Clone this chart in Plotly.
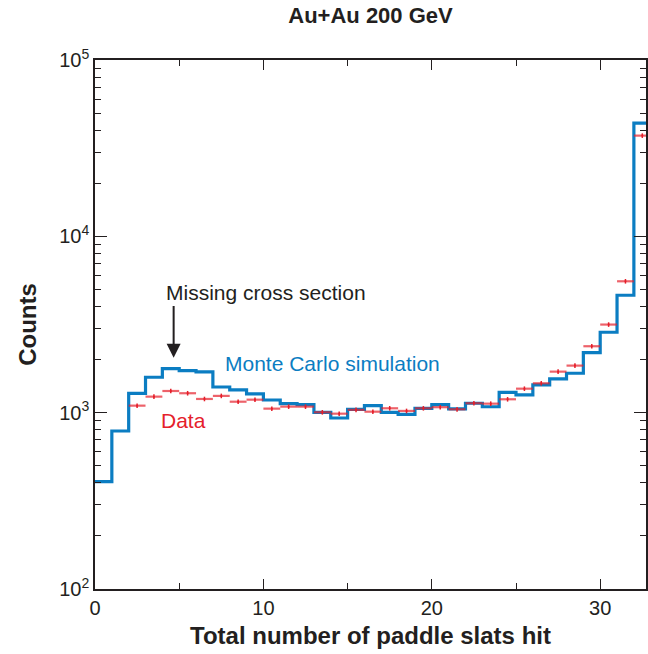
import numpy as np
import plotly.graph_objects as go

# bin edges of the paddle-slat histogram (width 1)
bin_edges = list(range(0, 34))

# Monte Carlo simulation, counts per bin (bins 0..32)
mc_counts = [406, 787, 1288, 1588, 1777, 1731, 1702, 1398, 1345, 1277,
             1180, 1125, 1110, 1005, 933, 1045, 1096, 1005, 979, 1059,
             1110, 1050, 1131, 1080, 1305, 1260, 1436, 1553, 1673, 2189,
             2858, 4634, 43800]

# measured data (bin centres and counts), bins 2..32
data_x = [2.5, 3.5, 4.5, 5.5, 6.5, 7.5, 8.5, 9.5, 10.5, 11.5,
          12.5, 13.5, 14.5, 15.5, 16.5, 17.5, 18.5, 19.5, 20.5, 21.5,
          22.5, 23.5, 24.5, 25.5, 26.5, 27.5, 28.5, 29.5, 30.5, 31.5, 32.5]
data_counts = [1096, 1233, 1327, 1289, 1196, 1245, 1154, 1185, 1054, 1082,
               1082, 1005, 987, 1038, 1013, 1059, 1023, 1059, 1074, 1045,
               1131, 1125, 1191, 1368, 1468, 1709, 1849, 2381, 3160, 5560, 37250]

INK = "#231F20"
BLUE = "#0B7DC2"
RED = "#E5202B"
FONT = "Liberation Sans, Arial, sans-serif"

fig = go.Figure()

# MC as a step histogram
fig.add_trace(
    go.Scatter(
        x=bin_edges,
        y=mc_counts + [mc_counts[-1]],
        mode="lines",
        line=dict(color=BLUE, width=3.2, shape="hv"),
        showlegend=False,
    )
)

# data: horizontal bar = bin width, small vertical stat error
fig.add_trace(
    go.Scatter(
        x=data_x,
        y=data_counts,
        mode="markers",
        marker=dict(color=RED, size=2),
        error_x=dict(type="constant", value=0.5, width=0, thickness=2.2, color="rgba(229,32,43,0.7)"),
        error_y=dict(type="percent", value=3, width=0, thickness=1.5, color=RED),
        showlegend=False,
    )
)

fig.add_annotation(x=4.67, y=np.log10(2050), ax=4.67, ay=np.log10(4100),
                   xref="x", yref="y", axref="x", ayref="y",
                   showarrow=True, arrowhead=2, arrowsize=1.4, arrowwidth=2,
                   arrowcolor=INK, text="")
fig.add_annotation(x=4.1, y=np.log10(4775), xref="x", yref="y", xanchor="left",
                   text="Missing cross section", showarrow=False,
                   font=dict(size=21, color=INK, family=FONT))
fig.add_annotation(x=7.6, y=np.log10(1890), xref="x", yref="y", xanchor="left",
                   text="Monte Carlo simulation", showarrow=False,
                   font=dict(size=21, color=BLUE, family=FONT))
fig.add_annotation(x=3.8, y=np.log10(897), xref="x", yref="y", xanchor="left",
                   text="Data", showarrow=False,
                   font=dict(size=21, color=RED, family=FONT))

fig.update_layout(
    width=648,
    height=654,
    margin=dict(l=95, r=0, t=60, b=65),
    paper_bgcolor="white",
    plot_bgcolor="white",
    font=dict(family=FONT, color=INK, size=16),
    title=dict(text="<b>Au+Au 200 GeV</b>", xref="paper", x=0.5, xanchor="center",
               yref="container", y=0.977, yanchor="middle",
               font=dict(size=22, color=INK, family=FONT)),
    xaxis=dict(
        range=[0, 32.72],
        tickvals=[0, 10, 20, 30],
        ticks="inside", ticklen=10, tickwidth=1.3, tickcolor=INK,
        minor=dict(tickvals=[5, 15, 25], ticks="inside", ticklen=6, tickwidth=1.3, tickcolor=INK),
        showline=True, linecolor=INK, linewidth=1.5, mirror="allticks",
        showgrid=False, zeroline=False,
        tickfont=dict(size=20, color=INK),
        title=dict(text="<b>Total number of paddle slats hit</b>", font=dict(size=24, color=INK), standoff=9),
    ),
    yaxis=dict(
        type="log",
        range=[2, 5],
        tickvals=[100, 1000, 10000, 100000],
        ticktext=["10<sup>2</sup>", "10<sup>3</sup>", "10<sup>4</sup>", "10<sup>5</sup>"],
        ticks="inside", ticklen=12, tickwidth=1.3, tickcolor=INK,
        minor=dict(tickvals=[m * 10 ** e for e in (2, 3, 4) for m in range(2, 10)],
                   ticks="inside", ticklen=6, tickwidth=1.3, tickcolor=INK),
        showline=True, linecolor=INK, linewidth=1.5, mirror="ticks",
        showgrid=False, zeroline=False,
        tickfont=dict(size=20, color=INK),
        title=dict(text="<b>Counts</b>", font=dict(size=24, color=INK), standoff=16),
    ),
)

# drop the default 8px page margin so the figure fills the window exactly
fig.write_html(
    "out.html",
    config={"displayModeBar": False},
    post_script="document.body.style.margin='0';document.body.style.overflow='hidden';",
)
